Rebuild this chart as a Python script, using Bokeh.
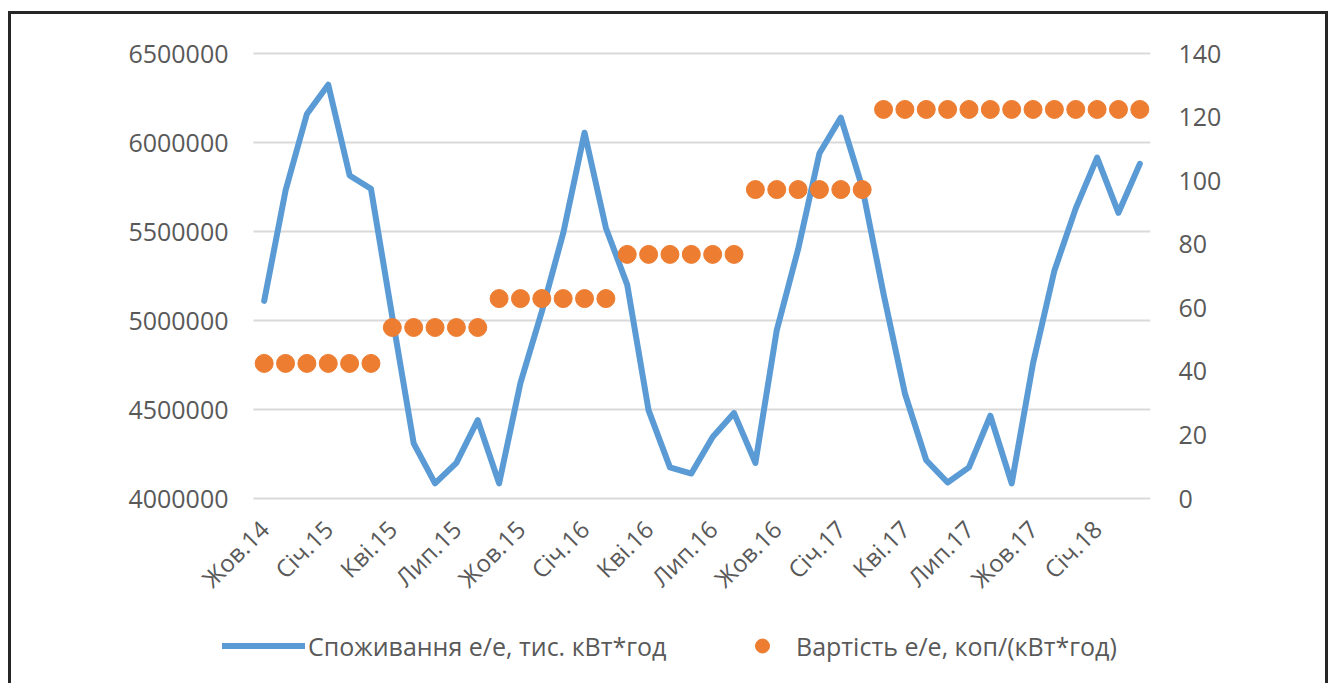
from bokeh.plotting import figure
from bokeh.models import Range1d, LinearAxis, FixedTicker, Legend, LegendItem
from bokeh.core.properties import value
from bokeh.embed import file_html
from bokeh.resources import INLINE
import math

# ---------------- data ----------------
months = ["Жов.14", "Лис.14", "Гру.14",
          "Січ.15", "Лют.15", "Бер.15", "Кві.15", "Тра.15", "Чер.15",
          "Лип.15", "Сер.15", "Вер.15", "Жов.15", "Лис.15", "Гру.15",
          "Січ.16", "Лют.16", "Бер.16", "Кві.16", "Тра.16", "Чер.16",
          "Лип.16", "Сер.16", "Вер.16", "Жов.16", "Лис.16", "Гру.16",
          "Січ.17", "Лют.17", "Бер.17", "Кві.17", "Тра.17", "Чер.17",
          "Лип.17", "Сер.17", "Вер.17", "Жов.17", "Лис.17", "Гру.17",
          "Січ.18", "Лют.18", "Бер.18"]

consumption = [5110000, 5730000, 6160000, 6325000, 5815000, 5740000,
               5020000, 4310000, 4085000, 4200000, 4440000, 4085000,
               4650000, 5050000, 5490000, 6055000, 5520000, 5200000,
               4495000, 4175000, 4140000, 4345000, 4480000, 4200000,
               4945000, 5400000, 5940000, 6140000, 5750000, 5150000,
               4590000, 4215000, 4090000, 4175000, 4465000, 4085000,
               4760000, 5280000, 5630000, 5915000, 5605000, 5880000]

price = [42.5] * 6 + [53.8] * 5 + [62.9] * 6 + [76.8] * 6 + [97.2] * 6 + [122.4] * 13

left_ticks = [4000000, 4500000, 5000000, 5500000, 6000000, 6500000]
right_ticks = [0, 20, 40, 60, 80, 100, 120, 140]

series_names = ["Споживання е/е, тис. кВт*год", "Вартість е/е, коп/(кВт*год)"]

x = list(range(len(months)))
tick_idx = x[::3]
tick_labels = [months[i] for i in tick_idx]
left_labels = [str(v) for v in left_ticks]

FONT = "Open Sans"
TXT = "#595959"
GRID = "#D9D9D9"
BLUE = "#5B9BD5"
ORANGE = "#ED7D31"

# ---------------- layout geometry (pixels on the page) ----------------
FIG_W, FIG_H = 1320, 672
CANVAS_X0, CANVAS_Y0 = 11, 14                 # after css margin + border
FRAME_L, PLOT_L, PLOT_R = 120, 253, 1150      # frame left, category area left/right
FRAME_T = 20                                   # frame top (room for top label)
TOP_PX, ZERO_PX, BOTTOM_PX = 53, 498, 686     # top gridline, baseline, frame bottom

n = len(months)
px_per_cat = (PLOT_R - PLOT_L) / n
x_lo = -0.5
x_hi = n - 0.5
x_start = x_lo - (PLOT_L - FRAME_L) / px_per_cat

l_span = left_ticks[-1] - left_ticks[0]
r_span = right_ticks[-1] - right_ticks[0]
ext_lo = (BOTTOM_PX - ZERO_PX) / (ZERO_PX - TOP_PX)
ext_hi = (TOP_PX - FRAME_T) / (ZERO_PX - TOP_PX)
y_low = left_ticks[0] - ext_lo * l_span
y_high = left_ticks[-1] + ext_hi * l_span
r_low = right_ticks[0] - ext_lo * r_span
r_high = right_ticks[-1] + ext_hi * r_span
px_per_unit = (ZERO_PX - TOP_PX) / l_span
label_y = left_ticks[0] - 26 / px_per_unit
ylab_x = x_lo - 25 / px_per_cat

p = figure(width=FIG_W, height=FIG_H, output_backend="svg", toolbar_location=None,
           x_range=Range1d(x_start, x_hi),
           y_range=Range1d(y_low, y_high),
           x_axis_location=None, y_axis_location=None,
           min_border_left=FRAME_L - CANVAS_X0,
           min_border_right=CANVAS_X0 + FIG_W - PLOT_R,
           min_border_top=FRAME_T - CANVAS_Y0, min_border_bottom=0,
           background_fill_color="white", border_fill_color="white")
p.styles = {"margin-left": "8px", "margin-top": "11px",
            "border-top": "3px solid #262626",
            "border-left": "3px solid #262626",
            "border-right": "3px solid #262626"}
p.outline_line_color = None
p.grid.visible = False
p.extra_y_ranges = {"price": Range1d(r_low, r_high)}

# horizontal grid lines across the category area
p.segment(x0=[x_lo] * len(left_ticks), y0=left_ticks,
          x1=[x_hi] * len(left_ticks), y1=left_ticks,
          line_color=GRID, line_width=2)

# left value labels
p.text(x=[ylab_x] * len(left_ticks), y=left_ticks, text=left_labels,
       text_align="right", text_baseline="middle",
       text_font=value(FONT), text_font_size="25px", text_color=TXT)

# right axis
ra = LinearAxis(y_range_name="price", ticker=FixedTicker(ticks=right_ticks))
ra.axis_line_color = None
ra.major_tick_line_color = None
ra.minor_tick_line_color = None
ra.major_label_standoff = 22
ra.major_label_text_font = FONT
ra.major_label_text_font_size = "25px"
ra.major_label_text_color = TXT
p.add_layout(ra, "right")

# category labels (rotated)
p.text(x=tick_idx, y=[label_y] * len(tick_idx), text=tick_labels,
       angle=math.pi / 4, text_align="right", text_baseline="middle",
       text_font=value(FONT), text_font_size="24px", text_color=TXT)

line_r = p.line(x, consumption, line_color=BLUE, line_width=6, line_join="round",
                line_cap="round")
dot_r = p.scatter(x, price, y_range_name="price", size=18, marker="circle",
                  fill_color=ORANGE, line_color=ORANGE)

common = dict(orientation="horizontal", glyph_height=35, padding=0, margin=0,
              border_line_color=None, background_fill_alpha=0,
              label_text_font=FONT, label_text_font_size="25px",
              label_text_color=TXT)
leg1 = Legend(items=[LegendItem(label=series_names[0], renderers=[line_r])],
              location=(222 - FRAME_L, 23), glyph_width=83, label_standoff=3, **common)
leg2 = Legend(items=[LegendItem(label=series_names[1], renderers=[dot_r])],
              location=(736 - FRAME_L, 23), glyph_width=52, label_standoff=8, **common)
p.add_layout(leg1, "center")
p.add_layout(leg2, "center")

open("out.html", "w").write(file_html(p, INLINE))
